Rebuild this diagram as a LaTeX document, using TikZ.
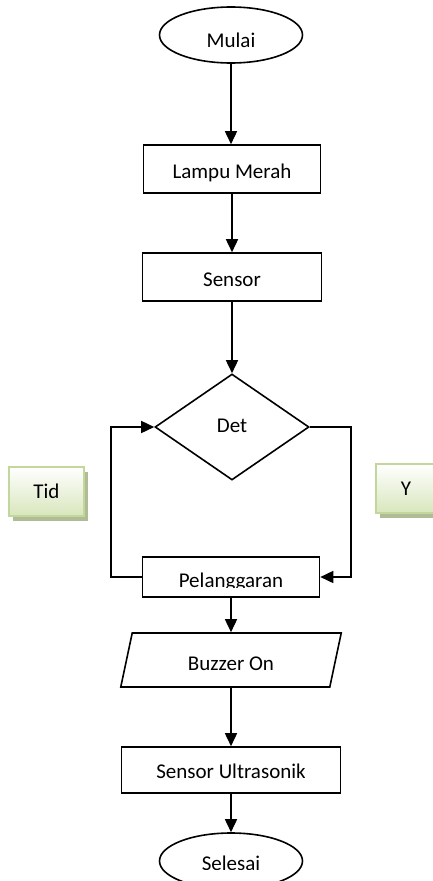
\documentclass[tikz,border=0pt]{standalone}
\usepackage{fontspec}
\setmainfont{Carlito}
\usetikzlibrary{shapes.geometric,arrows.meta,shadows}
\definecolor{gborder}{RGB}{195,214,155}
\definecolor{gfill}{RGB}{216,230,188}
\definecolor{gshadow}{RGB}{176,188,150}
\begin{document}
\begin{tikzpicture}[x=1pt,y=-1pt,
  every node/.style={font=\fontsize{21}{25}\selectfont, inner sep=0pt, text height=18pt, text depth=0pt},
  box/.style={draw, line width=1.6pt, rectangle},
  term/.style={draw, line width=1.6pt, ellipse, minimum width=143pt, minimum height=56pt},
  decis/.style={draw, line width=1.6pt, diamond, minimum width=154pt, minimum height=106pt, text height=10pt},
  io/.style={draw, line width=1.6pt, trapezium, trapezium left angle=76, trapezium right angle=104, trapezium stretches=true, minimum width=221pt, minimum height=54pt, text height=20pt},
  lbl/.style={draw=gborder, line width=1.5pt, rectangle, top color=white, bottom color=gfill, minimum width=75pt, minimum height=49pt, text height=13pt, drop shadow={shadow xshift=4pt, shadow yshift=-5pt, fill=gshadow, opacity=1}},
  arr/.style={line width=1.6pt, -{Triangle[length=13pt,width=12pt]}}]
\useasboundingbox (0,0) rectangle (433,881);
\clip (0,0) rectangle (433,881);
\node[term, text height=24pt] (mulai) at (231,35) {Mulai};
\node[box, minimum width=177pt, minimum height=48pt] (lampu) at (232,169) {Lampu Merah};
\node[box, minimum width=179pt, minimum height=48pt] (sensor) at (232,277) {Sensor};
\node[decis] (det) at (232,427) {Det};
\node[box, minimum width=177pt, minimum height=40pt] (pel) at (231,577) {};
\node[io] (buzzer) at (231,660) {Buzzer On};
\node[box, minimum width=219pt, minimum height=46pt, text height=16pt] (sonik) at (231,770) {Sensor Ultrasonik};
\node[term] (selesai) at (231,861) {};
\begin{scope}
\clip (140,550) rectangle (322,587.5);
\node[anchor=base] (peltxt) at (231,587.5) {Pelanggaran};
\end{scope}
\begin{scope}
\clip (150,840) rectangle (310,869);
\node[anchor=base] (seltxt) at (231,870.5) {Selesai};
\end{scope}
\node[lbl] (tid) at (46.5,491.5) {Tid};
\node[lbl, minimum width=60pt] (ya) at (406,488.5) {Y};
\draw[arr] (mulai.south) -- (mulai.south |- lampu.north);
\draw[arr] (lampu.south) -- (sensor.north);
\draw[arr] (sensor.south) -- (det.north);
\draw[arr] (pel.west) -- ++(-31,0) |- (det.west);
\draw[arr] (det.east) -- ++(41,0) |- (pel.east);
\draw[arr] (pel.south) -- (buzzer.north);
\draw[arr] (buzzer.south) -- (sonik.north);
\draw[arr] (sonik.south) -- (selesai.north);
\end{tikzpicture}
\end{document}
